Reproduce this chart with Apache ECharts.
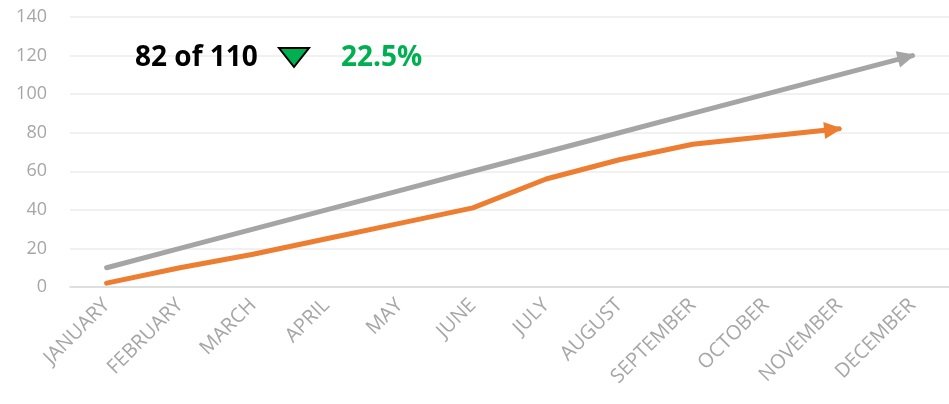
<!DOCTYPE html>
<html>
<head>
<meta charset="utf-8">
<script src="https://cdn.jsdelivr.net/npm/echarts@6/dist/echarts.min.js"></script>
<style>
  html, body { margin: 0; padding: 0; background: #fff; }
  #chart { width: 949px; height: 404px; }
</style>
</head>
<body>
<div id="chart"></div>
<script>
// ──── 数据 ────
const months = ['JANUARY', 'FEBRUARY', 'MARCH', 'APRIL', 'MAY', 'JUNE', 'JULY',
    'AUGUST', 'SEPTEMBER', 'OCTOBER', 'NOVEMBER', 'DECEMBER'];
const targetValues = [10, 20, 30, 40, 50, 60, 70, 80, 90, 100, 110, 120];
const actualValues = [2, 10, 17, 25, 33, 41, 56, 66, 74, 78, 82];
const yTicks = [0, 20, 40, 60, 80, 100, 120, 140];

const summaryText = '82 of 110';
const deltaText = '22.5%';

const GRAY = '#a5a5a5';
const ORANGE = '#ed7d31';
const GREEN = '#00b050';
const FONT = '"Open Sans", sans-serif';

const chart = echarts.init(document.getElementById('chart'), null, { renderer: 'canvas' });

// 末端箭头：最后一个点用三角形符号，旋转到末段方向，并往回挪一点
function withArrow(values, angle) {
    const rad = angle * Math.PI / 180;
    const back = 6;
    return values.map((v, i) => i === values.length - 1
        ? {
            value: v, symbol: 'triangle', symbolSize: [17, 18], symbolRotate: angle - 90,
            symbolOffset: [-back * Math.cos(rad), back * Math.sin(rad)],
        }
        : { value: v, symbol: 'none' });
}

function buildOption(grayAngle, orangeAngle) {
    return {
        animation: false,
        grid: { left: 70, right: 0, top: 17, bottom: 117 },
        xAxis: {
            type: 'category',
            data: months,
            boundaryGap: true,
            axisLine: { show: true, lineStyle: { color: '#d9d9d9', width: 1.5 } },
            axisTick: { show: false },
            axisLabel: {
                rotate: 45,
                margin: 15,
                interval: 0,
                color: '#a6a6a6',
                fontFamily: FONT,
                fontSize: 20,
            },
        },
        yAxis: {
            type: 'value',
            min: yTicks[0],
            max: yTicks[yTicks.length - 1],
            interval: 20,
            axisLine: { show: false },
            axisTick: { show: false },
            splitLine: { lineStyle: { color: '#ececec', width: 1.5 } },
            axisLabel: {
                margin: 23,
                color: '#a6a6a6',
                fontFamily: FONT,
                fontSize: 18,
            },
        },
        graphic: [
            {
                type: 'text', left: 135, top: 44, z: 100,
                style: { text: summaryText, fill: '#000', font: `bold 28px ${FONT}` },
            },
            {
                type: 'polygon', z: 100,
                shape: { points: [[279, 48], [309, 48], [294, 67]] },
                style: { fill: GREEN, stroke: '#000', lineWidth: 2, lineJoin: 'miter' },
            },
            {
                type: 'text', left: 341, top: 44, z: 100,
                style: { text: deltaText, fill: GREEN, font: `bold 28px ${FONT}` },
            },
        ],
        series: [
            {
                name: 'Target',
                type: 'line',
                data: withArrow(targetValues, grayAngle),
                showSymbol: true,
                lineStyle: { color: GRAY, width: 5, cap: 'round' },
                itemStyle: { color: GRAY },
                z: 2,
            },
            {
                name: 'Actual',
                type: 'line',
                data: withArrow(actualValues, orangeAngle),
                showSymbol: true,
                lineStyle: { color: ORANGE, width: 5, cap: 'round' },
                itemStyle: { color: ORANGE },
                z: 3,
            },
        ],
    };
}

// 先画一次，求出末段的屏幕角度再重画
function endAngle(values) {
    const n = values.length;
    const a = chart.convertToPixel({ gridIndex: 0 }, [n - 2, values[n - 2]]);
    const b = chart.convertToPixel({ gridIndex: 0 }, [n - 1, values[n - 1]]);
    return Math.atan2(a[1] - b[1], b[0] - a[0]) * 180 / Math.PI;
}

chart.setOption(buildOption(0, 0));
chart.setOption(buildOption(endAngle(targetValues), endAngle(actualValues)));
</script>
</body>
</html>
